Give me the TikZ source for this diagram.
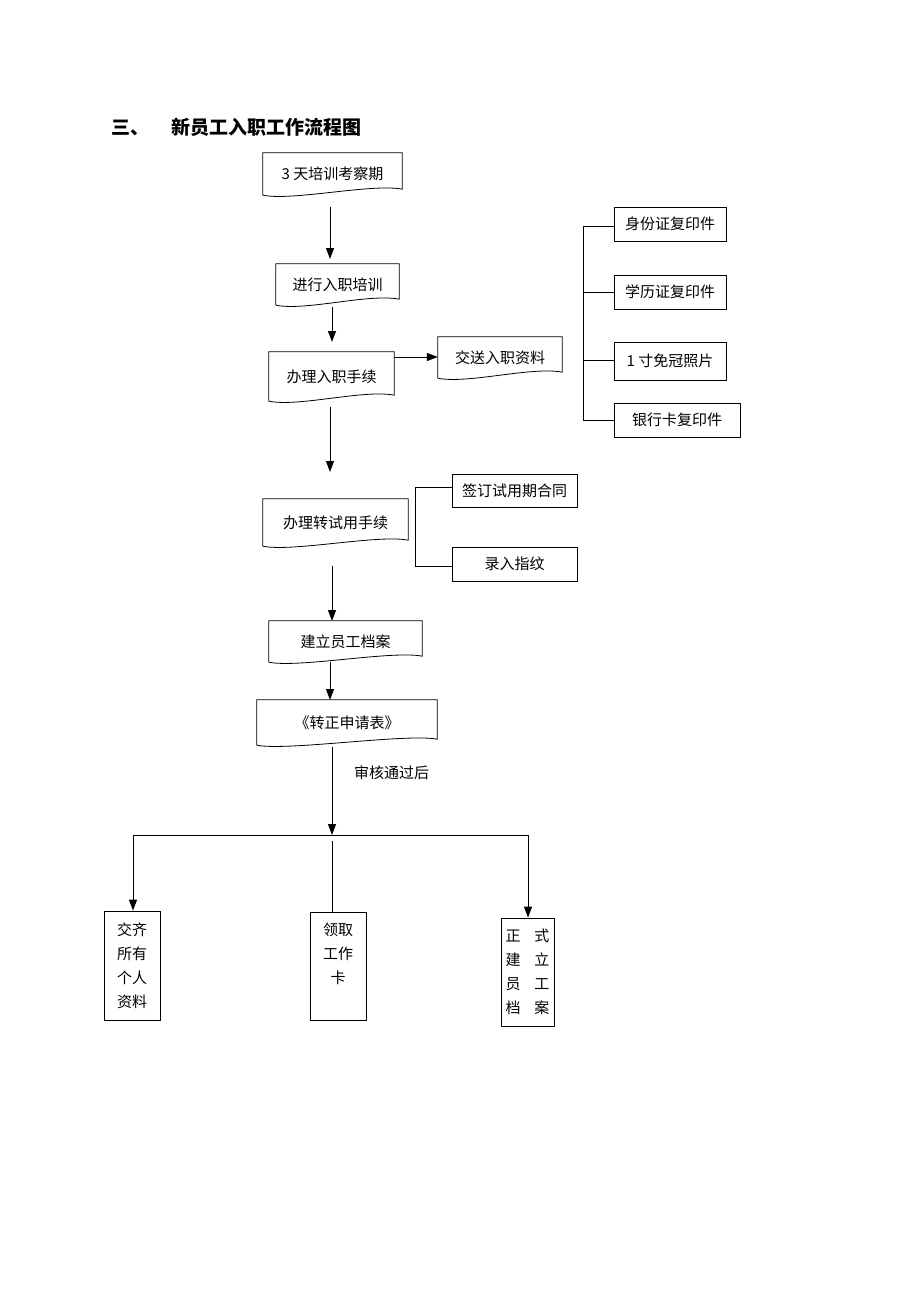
\documentclass[tikz,border=0pt]{standalone}
\usepackage{fontspec}
\setmainfont{Liberation Serif}
\newfontfamily\cjk{Noto Sans CJK SC}
\usetikzlibrary{arrows.meta}
\begin{document}
\begin{tikzpicture}[x=1pt,y=-1pt,
  txt/.style={font=\cjk\fontsize{15}{20}\selectfont,inner sep=0pt},
  doc/.style={txt,draw=none,rectangle},
  box/.style={txt,draw,line width=0.8pt,rectangle,inner sep=0pt},
  multi/.style={box,align=center,font=\cjk\fontsize{15}{24}\selectfont},
  ln/.style={line width=1pt},
  arr/.style={ln,-{Triangle[length=11pt,width=8pt]}}]
\useasboundingbox (0,0) rectangle (920,1302);
\newcommand{\docshape}[1]{\draw[line width=0.8pt] (#1.south west) -- (#1.north west) -- (#1.north east) -- ([yshift=6pt]#1.south east) .. controls ([xshift=-30pt,yshift=12pt]#1.south east) and ([xshift=30pt,yshift=-6pt]#1.south west) .. (#1.south west);}
\node[font=\cjk\bfseries\fontsize{19}{20}\selectfont,anchor=west] (title) at (108,127) {三、\hspace{22pt}新员工入职工作流程图};
% document nodes
\node[doc,minimum width=139pt,minimum height=42pt] (a) at (332.5,174) {3 天培训考察期};
\node[doc,minimum width=123pt,minimum height=41pt] (b) at (337.5,284.5) {进行入职培训};
\node[doc,minimum width=125pt,minimum height=49pt] (c) at (331.5,376.5) {办理入职手续};
\node[doc,minimum width=124pt,minimum height=41pt] (d) at (500,357.5) {交送入职资料};
\node[doc,minimum width=145pt,minimum height=47pt] (e) at (335.5,522.5) {办理转试用手续};
\node[doc,minimum width=153pt,minimum height=41pt] (f) at (345.5,641.5) {建立员工档案};
\node[doc,minimum width=180pt,minimum height=45pt] (g) at (347,722.5) {《转正申请表》};
\foreach \n in {a,b,c,d,e,f,g}{\docshape{\n}}
% plain boxes
\node[box,minimum width=112pt,minimum height=34pt] (r1) at (670,224) {身份证复印件};
\node[box,minimum width=112pt,minimum height=34pt] (r2) at (670,292) {学历证复印件};
\node[box,minimum width=112pt,minimum height=38pt] (r3) at (670,361) {1 寸免冠照片};
\node[box,minimum width=126pt,minimum height=34pt] (r4) at (677,420) {银行卡复印件};
\node[box,minimum width=125pt,minimum height=33pt] (s1) at (514.5,490.5) {签订试用期合同};
\node[box,minimum width=125pt,minimum height=34pt] (s2) at (514.5,564) {录入指纹};
\node[multi,minimum width=56pt,minimum height=109pt] (p1) at (132,965.5) {交齐\\所有\\个人\\资料};
\node[multi,minimum width=56pt,minimum height=108pt] (p2) at (338,966) {领取\\工作\\卡\\\phantom{卡}};
\node[multi,minimum width=53pt,minimum height=108pt] (p3) at (527.5,972) {正\hspace{14pt}式\\建\hspace{14pt}立\\员\hspace{14pt}工\\档\hspace{14pt}案};
\node[txt,anchor=west] (lab) at (354,773) {审核通过后};
% coordinates
\coordinate (a1) at (330,207); \coordinate (a2) at (330,259);
\coordinate (b1) at (332,307); \coordinate (b2) at (332,342);
\coordinate (c1) at (330,407); \coordinate (c2) at (330,472);
\coordinate (cd) at (394,357);
\coordinate (e1) at (332,566); \coordinate (e2) at (332,621);
\coordinate (f1) at (330,662); \coordinate (f2) at (330,700);
\coordinate (g1) at (332,747); \coordinate (j) at (332,835);
\coordinate (hl) at (133,835); \coordinate (hr) at (528,835);
\coordinate (m1) at (332,841);
\coordinate (v1) at (583,226); \coordinate (v2) at (583,420);
\coordinate (w1) at (415,487); \coordinate (w2) at (415,566);
% connectors
\draw[arr] (a1) -- (a2);
\draw[arr] (b1) -- (b2);
\draw[arr] (cd) -- (cd -| d.west);
\draw[arr] (c1) -- (c2);
\draw[arr] (e1) -- (e2);
\draw[arr] (f1) -- (f2);
\draw[arr] (g1) -- (j);
\draw[ln] (v1) -- (v2);
\draw[ln] (v1) -- (v1 -| r1.west);
\draw[ln] (583,292) -- (r2.west);
\draw[ln] (583,360) -- (583,360 -| r3.west);
\draw[ln] (v2) -- (v2 -| r4.west);
\draw[ln] (w1) -- (w2);
\draw[ln] (w1) -- (w1 -| s1.west); \draw[ln] (w2) -- (w2 -| s2.west);
\draw[ln] (hl) -- (hr);
\draw[arr] (hl) -- (p1.north -| hl);
\draw[arr] (hr) -- (p3.north -| hr);
\draw[ln] (m1) -- (p2.north -| m1);
\end{tikzpicture}
\end{document}
